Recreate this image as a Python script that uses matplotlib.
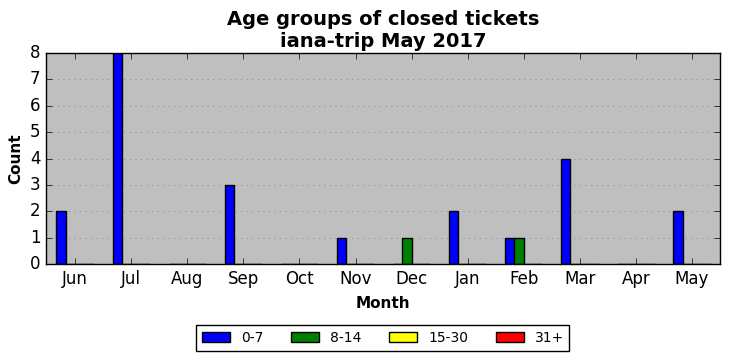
import matplotlib
matplotlib.use("Agg")
import matplotlib.pyplot as plt
import numpy as np

months = ["Jun", "Jul", "Aug", "Sep", "Oct", "Nov", "Dec", "Jan", "Feb", "Mar", "Apr", "May"]
age_groups = ["0-7", "8-14", "15-30", "31+"]
counts_0_7 = [2, 8, 0, 3, 0, 1, 0, 2, 1, 4, 0, 2]
counts_8_14 = [0, 0, 0, 0, 0, 0, 1, 0, 1, 0, 0, 0]
counts_15_30 = [0, 0, 0, 0, 0, 0, 0, 0, 0, 0, 0, 0]
counts_31 = [0, 0, 0, 0, 0, 0, 0, 0, 0, 0, 0, 0]
colors = ["blue", "green", "yellow", "red"]

plt.style.use("classic")

fig = plt.figure(figsize=(7.31, 3.61), dpi=100, facecolor="white")
ax = fig.add_axes([46 / 731, 1 - 264 / 361, 674 / 731, 211 / 361])
ax.set_facecolor("#bfbfbf")

x = np.arange(len(months))
width = 1 / 6
series = [counts_0_7, counts_8_14, counts_15_30, counts_31]
for i, (vals, name, col) in enumerate(zip(series, age_groups, colors)):
    ax.bar(x + (i - 2) * width, vals, width, align="edge", color=col,
           edgecolor="black", linewidth=1, label=name)

ax.set_xlim(-0.52, 11.5)
ax.set_ylim(0, 8)
ax.set_xticks(x)
ax.set_xticklabels(months)
ax.set_yticks(range(9))
ax.yaxis.grid(True, linestyle=":", color="#888888")
ax.xaxis.grid(False)
ax.set_axisbelow(True)

ax.set_title("Age groups of closed tickets\niana-trip May 2017", fontsize=14,
             fontweight="bold", y=0.995)
ax.set_xlabel("Month", fontsize=11, fontweight="bold", labelpad=6)
ax.set_ylabel("Count", fontsize=11, fontweight="bold")

fig.legend(loc="center", bbox_to_anchor=(383 / 731, 1 - 338 / 361), ncol=4,
           fontsize=10, handlelength=2.0, columnspacing=2.0, borderpad=0.4)

fig.savefig("out.png", dpi=100, facecolor="white")
